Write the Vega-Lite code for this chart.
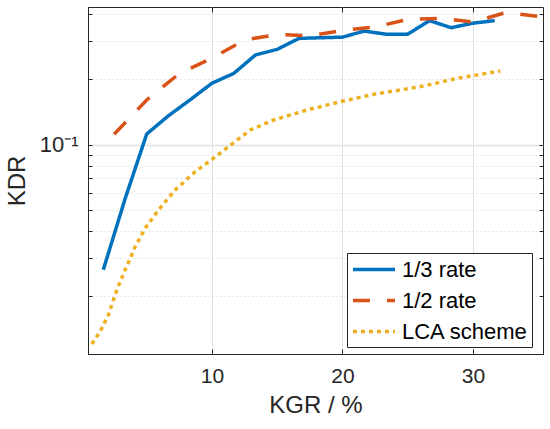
{
  "$schema": "https://vega.github.io/schema/vega-lite/v6.json",
  "width": 455,
  "height": 347,
  "autosize": "none",
  "padding": {"left": 88, "top": 7, "right": 7, "bottom": 75},
  "background": "white",
  "data": {
    "values": [
      {"kgr": 1.67, "kdr": 0.0265, "series": "1/3 rate"},
      {"kgr": 3.33, "kdr": 0.056, "series": "1/3 rate"},
      {"kgr": 5, "kdr": 0.112, "series": "1/3 rate"},
      {"kgr": 6.67, "kdr": 0.136, "series": "1/3 rate"},
      {"kgr": 8.33, "kdr": 0.161, "series": "1/3 rate"},
      {"kgr": 10, "kdr": 0.192, "series": "1/3 rate"},
      {"kgr": 11.67, "kdr": 0.213, "series": "1/3 rate"},
      {"kgr": 13.33, "kdr": 0.259, "series": "1/3 rate"},
      {"kgr": 15, "kdr": 0.275, "series": "1/3 rate"},
      {"kgr": 16.67, "kdr": 0.309, "series": "1/3 rate"},
      {"kgr": 18.33, "kdr": 0.311, "series": "1/3 rate"},
      {"kgr": 20, "kdr": 0.313, "series": "1/3 rate"},
      {"kgr": 21.67, "kdr": 0.334, "series": "1/3 rate"},
      {"kgr": 23.33, "kdr": 0.323, "series": "1/3 rate"},
      {"kgr": 25, "kdr": 0.323, "series": "1/3 rate"},
      {"kgr": 26.67, "kdr": 0.373, "series": "1/3 rate"},
      {"kgr": 28.33, "kdr": 0.346, "series": "1/3 rate"},
      {"kgr": 30, "kdr": 0.363, "series": "1/3 rate"},
      {"kgr": 31.67, "kdr": 0.373, "series": "1/3 rate"},
      {"kgr": 2.5, "kdr": 0.1117, "series": "1/2 rate"},
      {"kgr": 5, "kdr": 0.1607, "series": "1/2 rate"},
      {"kgr": 7.5, "kdr": 0.2128, "series": "1/2 rate"},
      {"kgr": 10, "kdr": 0.2504, "series": "1/2 rate"},
      {"kgr": 12.5, "kdr": 0.3037, "series": "1/2 rate"},
      {"kgr": 15, "kdr": 0.322, "series": "1/2 rate"},
      {"kgr": 17.5, "kdr": 0.3176, "series": "1/2 rate"},
      {"kgr": 20, "kdr": 0.336, "series": "1/2 rate"},
      {"kgr": 22.5, "kdr": 0.3487, "series": "1/2 rate"},
      {"kgr": 25, "kdr": 0.3776, "series": "1/2 rate"},
      {"kgr": 27.5, "kdr": 0.3824, "series": "1/2 rate"},
      {"kgr": 30, "kdr": 0.3676, "series": "1/2 rate"},
      {"kgr": 32.5, "kdr": 0.4057, "series": "1/2 rate"},
      {"kgr": 35, "kdr": 0.3905, "series": "1/2 rate"},
      {"kgr": 0.79, "kdr": 0.01207, "series": "LCA scheme"},
      {"kgr": 1.43, "kdr": 0.01375, "series": "LCA scheme"},
      {"kgr": 2.06, "kdr": 0.0164, "series": "LCA scheme"},
      {"kgr": 2.71, "kdr": 0.0214, "series": "LCA scheme"},
      {"kgr": 3.35, "kdr": 0.0265, "series": "LCA scheme"},
      {"kgr": 4.12, "kdr": 0.0339, "series": "LCA scheme"},
      {"kgr": 4.88, "kdr": 0.0412, "series": "LCA scheme"},
      {"kgr": 5.9, "kdr": 0.05, "series": "LCA scheme"},
      {"kgr": 7.18, "kdr": 0.0618, "series": "LCA scheme"},
      {"kgr": 8.72, "kdr": 0.0751, "series": "LCA scheme"},
      {"kgr": 9.87, "kdr": 0.0844, "series": "LCA scheme"},
      {"kgr": 11.27, "kdr": 0.0979, "series": "LCA scheme"},
      {"kgr": 12.94, "kdr": 0.1169, "series": "LCA scheme"},
      {"kgr": 14.73, "kdr": 0.13, "series": "LCA scheme"},
      {"kgr": 17.29, "kdr": 0.1445, "series": "LCA scheme"},
      {"kgr": 19.85, "kdr": 0.1578, "series": "LCA scheme"},
      {"kgr": 22.4, "kdr": 0.1707, "series": "LCA scheme"},
      {"kgr": 24.45, "kdr": 0.1787, "series": "LCA scheme"},
      {"kgr": 26.24, "kdr": 0.1865, "series": "LCA scheme"},
      {"kgr": 28.8, "kdr": 0.2023, "series": "LCA scheme"},
      {"kgr": 32.1, "kdr": 0.2186, "series": "LCA scheme"}
    ]
  },
  "layer": [
    {
      "mark": {"type": "line", "strokeWidth": 3.5, "clip": true},
      "encoding": {
        "x": {
          "field": "kgr",
          "type": "quantitative",
          "scale": {"domain": [0.5, 35.37], "nice": false, "zero": false},
          "axis": {
            "orient": "bottom",
            "title": "KGR / %",
            "values": [10, 20, 30],
            "tickSize": -5,
            "labelPadding": 16,
            "titlePadding": 7,
            "grid": true,
            "gridColor": "#e3e3e3",
            "gridWidth": 1
          }
        },
        "y": {
          "field": "kdr",
          "type": "quantitative",
          "scale": {"type": "log", "domain": [0.01085, 0.431], "nice": false},
          "axis": {
            "orient": "left",
            "title": "KDR",
            "values": [0.02, 0.03, 0.04, 0.05, 0.06, 0.07, 0.08, 0.09, 0.1, 0.2, 0.3, 0.4],
            "labelExpr": "datum.value == 0.1 ? '10⁻¹' : ''",
            "labelFontSize": 22,
            "tickSize": -4,
            "labelPadding": 14,
            "titlePadding": 10,
            "grid": true,
            "gridColor": {"condition": {"test": "datum.value == 0.1", "value": "#e0e0e0"}, "value": "#cfcfcf"},
            "gridWidth": {"condition": {"test": "datum.value == 0.1", "value": 1.5}, "value": 1},
            "gridDash": {"condition": {"test": "datum.value == 0.1", "value": []}, "value": [1, 3]}
          }
        },
        "color": {
          "field": "series",
          "type": "nominal",
          "scale": {
            "domain": ["1/3 rate", "1/2 rate", "LCA scheme"],
            "range": ["#0072BD", "#D95319", "#EDB120"]
          },
          "legend": {
            "title": null,
            "orient": "none",
            "legendX": 259,
            "legendY": 246
          }
        },
        "strokeDash": {
          "field": "series",
          "type": "nominal",
          "scale": {
            "domain": ["1/3 rate", "1/2 rate", "LCA scheme"],
            "range": [[1, 0], [17, 17], [4, 4]]
          },
          "legend": {
            "title": null,
            "orient": "none",
            "legendX": 259,
            "legendY": 246
          }
        }
      }
    },
    {
      "mark": {"type": "line", "opacity": 0},
      "encoding": {
        "x": {
          "field": "kgr",
          "type": "quantitative",
          "axis": {
            "orient": "top",
            "title": null,
            "labels": false,
            "domain": false,
            "grid": false,
            "values": [10, 20, 30],
            "tickSize": -5
          }
        },
        "y": {
          "field": "kdr",
          "type": "quantitative",
          "axis": {
            "orient": "right",
            "title": null,
            "labels": false,
            "domain": false,
            "grid": false,
            "values": [0.02, 0.03, 0.04, 0.05, 0.06, 0.07, 0.08, 0.09, 0.1, 0.2, 0.3, 0.4],
            "tickSize": -4
          }
        }
      }
    }
  ],
  "resolve": {"axis": {"x": "independent", "y": "independent"}},
  "config": {
    "view": {"stroke": "#262626", "strokeWidth": 1},
    "font": "Liberation Sans",
    "axis": {
      "domainColor": "#262626",
      "tickColor": "#262626",
      "labelColor": "#262626",
      "titleColor": "#262626",
      "labelFont": "Liberation Sans",
      "titleFont": "Liberation Sans",
      "labelFontSize": 21,
      "titleFontSize": 24,
      "titleFontWeight": "normal"
    },
    "legend": {
      "labelFont": "Liberation Sans",
      "labelFontSize": 22,
      "labelColor": "#000000",
      "symbolType": "M-1,0H3",
      "symbolSize": 441,
      "symbolStrokeWidth": 3.5,
      "strokeColor": "#262626",
      "fillColor": "white",
      "padding": 4,
      "rowPadding": 7,
      "labelOffset": 26,
      "cornerRadius": 0
    }
  }
}
